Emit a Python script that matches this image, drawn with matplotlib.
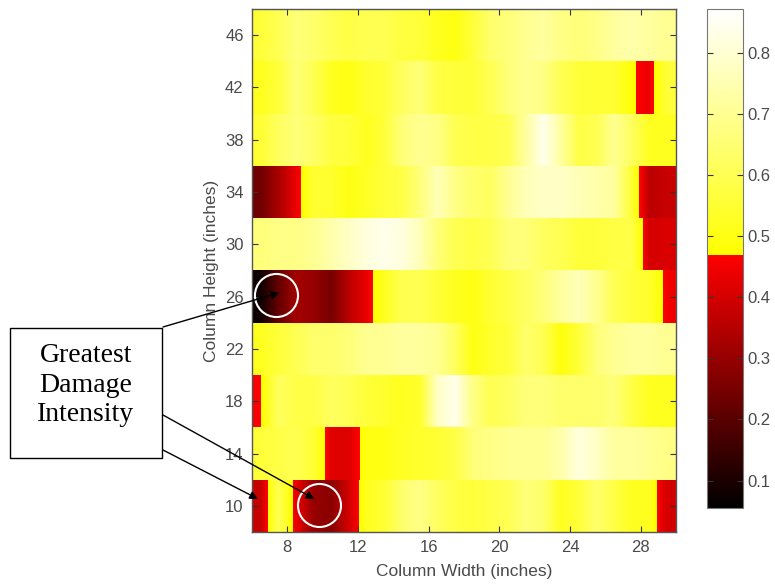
import numpy as np
import matplotlib
matplotlib.use('Agg')
import matplotlib.pyplot as plt
from matplotlib.colors import LinearSegmentedColormap, Normalize
from matplotlib.cm import ScalarMappable

# damage intensity, one row per column-height band, one value per inch of width (6..30)
row_heights = [10, 14, 18, 22, 26, 30, 34, 38, 42, 46]

h10 = [0.38, 0.60, 0.44, 0.30, 0.28, 0.40, 0.52, 0.55, 0.64, 0.68, 0.62, 0.58,
       0.56, 0.58, 0.60, 0.66, 0.64, 0.52, 0.56, 0.64, 0.58, 0.52, 0.52, 0.40]
h14 = [0.56, 0.58, 0.60, 0.55, 0.42, 0.42, 0.50, 0.50, 0.53, 0.54, 0.55, 0.58,
       0.66, 0.68, 0.70, 0.70, 0.70, 0.74, 0.82, 0.78, 0.72, 0.72, 0.70, 0.68]
h18 = [0.465, 0.62, 0.58, 0.58, 0.62, 0.60, 0.56, 0.54, 0.52, 0.54, 0.78, 0.84,
       0.68, 0.60, 0.62, 0.66, 0.66, 0.64, 0.64, 0.64, 0.66, 0.58, 0.52, 0.52]
h22 = [0.52, 0.56, 0.60, 0.64, 0.64, 0.66, 0.70, 0.70, 0.72, 0.72, 0.70, 0.62,
       0.50, 0.54, 0.56, 0.64, 0.60, 0.49, 0.56, 0.66, 0.70, 0.72, 0.72, 0.70]
h26 = [0.08, 0.22, 0.32, 0.30, 0.25, 0.36, 0.44, 0.52, 0.60, 0.60, 0.56, 0.52,
       0.50, 0.55, 0.58, 0.62, 0.66, 0.72, 0.76, 0.70, 0.60, 0.56, 0.54, 0.45]
h30 = [0.66, 0.68, 0.68, 0.70, 0.74, 0.78, 0.82, 0.84, 0.82, 0.76, 0.66, 0.60,
       0.58, 0.60, 0.66, 0.66, 0.62, 0.60, 0.56, 0.56, 0.58, 0.58, 0.40, 0.41]
h34 = [0.24, 0.33, 0.44, 0.55, 0.54, 0.50, 0.53, 0.56, 0.58, 0.66, 0.76, 0.68,
       0.64, 0.62, 0.70, 0.76, 0.78, 0.78, 0.76, 0.74, 0.72, 0.55, 0.36, 0.38]
h38 = [0.55, 0.62, 0.66, 0.63, 0.57, 0.56, 0.52, 0.56, 0.66, 0.70, 0.68, 0.60,
       0.58, 0.58, 0.60, 0.72, 0.84, 0.72, 0.58, 0.60, 0.70, 0.62, 0.52, 0.52]
h42 = [0.52, 0.56, 0.66, 0.60, 0.52, 0.50, 0.54, 0.56, 0.62, 0.66, 0.58, 0.56,
       0.56, 0.60, 0.66, 0.70, 0.68, 0.60, 0.56, 0.55, 0.55, 0.48, 0.44, 0.56]
h46 = [0.56, 0.60, 0.66, 0.64, 0.60, 0.58, 0.60, 0.60, 0.57, 0.56, 0.52, 0.50,
       0.56, 0.64, 0.66, 0.70, 0.72, 0.68, 0.66, 0.68, 0.72, 0.74, 0.72, 0.70]

rows = [h10, h14, h18, h22, h26, h30, h34, h38, h42, h46]

x_ticks = [8, 12, 16, 20, 24, 28]
y_ticks = [10, 14, 18, 22, 26, 30, 34, 38, 42, 46]
cbar_ticks = [0.1, 0.2, 0.3, 0.4, 0.5, 0.6, 0.7, 0.8]

# marked spots (width, height)
spots_x = [7.38, 9.78]
spots_y = [26.1, 10.07]

vmin, vmax, vbreak = 0.055, 0.872, 0.47

# black->red below the break, yellow->white above it
p = (vbreak - vmin) / (vmax - vmin)
cmap = LinearSegmentedColormap('dmg', {
    'red':   [(0, 0, 0), (p, 1, 1), (1, 1, 1)],
    'green': [(0, 0, 0), (p, 0, 1), (1, 1, 1)],
    'blue':  [(0, 0, 0), (p, 0, 0), (1, 1, 1)],
}, N=512)
norm = Normalize(vmin, vmax)

plt.rcParams['font.family'] = ['Liberation Sans', 'DejaVu Sans']

fig = plt.figure(figsize=(7.75, 5.88), dpi=100)
W, H = 775, 588
ax = fig.add_axes([252 / W, 1 - 532 / H, 424 / W, 523 / H])

for h, vals in zip(row_heights, rows):
    ax.imshow(np.array([vals]), extent=(6, 30, h - 2, h + 2), origin='lower',
              cmap=cmap, norm=norm, interpolation='bilinear',
              interpolation_stage='data', aspect='auto')

ax.set_xlim(6, 30)
ax.set_ylim(8, 48)
ax.set_xticks(x_ticks)
ax.set_yticks(y_ticks)
ax.tick_params(direction='in', top=True, right=True, length=4, width=0.8,
               labelsize=12, labelcolor='#4a4a4a', color='#333333', pad=6)
for s in ax.spines.values():
    s.set_color('#555555')
    s.set_linewidth(1.0)
ax.set_xlabel('Column Width (inches)', fontsize=12.5, color='#4a4a4a', labelpad=6)
ax.set_ylabel('Column Height (inches)', fontsize=12.5, color='#4a4a4a', labelpad=4)

# circles around the worst spots
ax.plot(spots_x, spots_y, 'o', ms=31, mfc='none', mec='white', mew=1.5)

# colorbar
cax = fig.add_axes([707 / W, 1 - 508 / H, 36 / W, 499 / H])
cb = fig.colorbar(ScalarMappable(norm=norm, cmap=cmap), cax=cax, ticks=cbar_ticks)
cb.outline.set_edgecolor('#777777')
cax.tick_params(direction='in', left=True, right=True, length=4, width=0.8,
                labelsize=12, labelcolor='#4a4a4a', color='#333333', pad=3)
cax.set_yticklabels(['%.1f' % t for t in cbar_ticks])

# callout box
box = plt.Rectangle((10 / W, 1 - 458 / H), 152 / W, 130 / H, transform=fig.transFigure,
                    fill=False, ec='black', lw=1.0)
fig.add_artist(box)
fig.text(86 / W, 1 - 385 / H, 'Greatest\nDamage\nIntensity', ha='center', va='center',
         fontsize=20, family='Liberation Serif', linespacing=1.25)

tails = [(163, 327), (163, 415), (163, 450)]
tips = [(7.55, 26.3), (9.53, 10.53), (6.34, 10.53)]
for (tx, ty), tip in zip(tails, tips):
    ax.annotate('', xy=tip, xycoords='data', xytext=(tx / W, 1 - ty / H),
                textcoords='figure fraction', annotation_clip=False,
                arrowprops=dict(arrowstyle='-|>', color='black', lw=1.0,
                                mutation_scale=12, shrinkA=0, shrinkB=0))

fig.savefig('out.png', dpi=100)
